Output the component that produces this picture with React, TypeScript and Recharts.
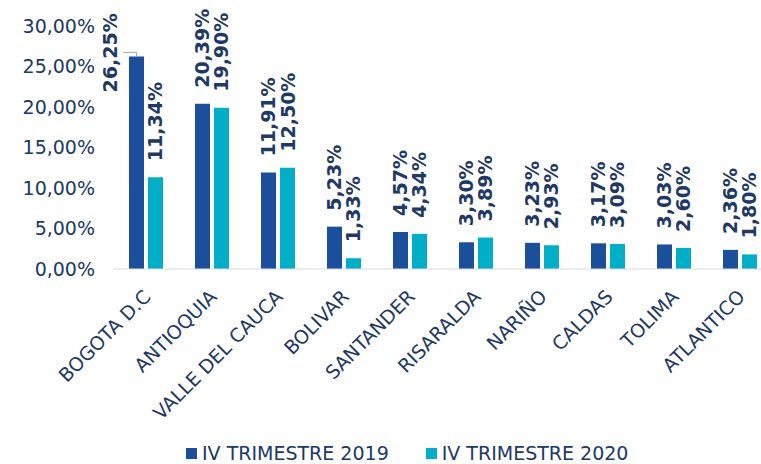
import React from 'react'
import { BarChart, Bar, XAxis, YAxis, Legend, LabelList } from 'recharts'

const categories = [
  'BOGOTA D.C',
  'ANTIOQUIA',
  'VALLE DEL CAUCA',
  'BOLIVAR',
  'SANTANDER',
  'RISARALDA',
  'NARIÑO',
  'CALDAS',
  'TOLIMA',
  'ATLANTICO',
]
const trimestre2019 = [26.25, 20.39, 11.91, 5.23, 4.57, 3.3, 3.23, 3.17, 3.03, 2.36]
const trimestre2020 = [11.34, 19.9, 12.5, 1.33, 4.34, 3.89, 2.93, 3.09, 2.6, 1.8]
const yTicks = [0, 5, 10, 15, 20, 25, 30]
const seriesNames = ['IV TRIMESTRE 2019', 'IV TRIMESTRE 2020']

const DARK = '#1B4F9B'
const LIGHT = '#00AEC7'
const TEXT = '#203864'
const FONT = '"DejaVu Sans", Verdana, sans-serif'

const data = categories.map((name, i) => ({
  name,
  t2019: trimestre2019[i],
  t2020: trimestre2020[i],
}))

const fmt = (v: number) => v.toFixed(2).replace('.', ',') + '%'

interface LabelProps {
  x?: number
  y?: number
  width?: number
  value?: number
  index?: number
}

function makeLabel(moveFirst: boolean) {
  return function BarLabel(props: LabelProps) {
    const { x = 0, y = 0, width = 0, value = 0, index } = props
    const cx = x + width / 2
    if (moveFirst && index === 0) {
      // Excel moved this one to the left of its bar, with a leader line
      const lx = x - 19
      const ly = y + 36
      return (
        <g>
          <path
            d={`M${cx},${y} L${cx},${y - 4} L${x - 6},${y - 4}`}
            stroke="#A6A6A6"
            strokeWidth={1}
            fill="none"
          />
          <text
            x={lx}
            y={ly}
            transform={`rotate(-90, ${lx}, ${ly})`}
            textAnchor="start"
            dominantBaseline="central"
            fontSize={19}
            fontWeight="bold"
            fontFamily={FONT}
            fill={TEXT}
          >
            {fmt(value)}
          </text>
        </g>
      )
    }
    const ly = y - 16
    return (
      <text
        x={cx}
        y={ly}
        transform={`rotate(-90, ${cx}, ${ly})`}
        textAnchor="start"
        dominantBaseline="central"
        fontSize={19}
        fontWeight="bold"
        fontFamily={FONT}
        fill={TEXT}
      >
        {fmt(value)}
      </text>
    )
  }
}

interface TickProps {
  x?: number
  y?: number
  payload?: { value: string }
}

function CategoryTick({ x = 0, y = 0, payload }: TickProps) {
  const tx = x + 6
  const ty = y + 21
  return (
    <text
      x={tx}
      y={ty}
      transform={`rotate(-45, ${tx}, ${ty})`}
      textAnchor="end"
      fontSize={19}
      fontFamily={FONT}
      fill={TEXT}
    >
      {payload?.value}
    </text>
  )
}

function LegendContent() {
  const colors = [DARK, LIGHT]
  return (
    <div
      style={{
        display: 'flex',
        paddingLeft: 186,
        paddingTop: 2,
        fontFamily: FONT,
        fontSize: 19,
        color: TEXT,
        lineHeight: '22px',
      }}
    >
      {seriesNames.map((n, i) => (
        <div
          key={n}
          style={{ display: 'flex', alignItems: 'center', marginRight: 37 }}
        >
          <span
            style={{
              display: 'inline-block',
              width: 11,
              height: 11,
              background: colors[i],
              marginRight: 5,
            }}
          />
          {n}
        </div>
      ))}
    </div>
  )
}

export default function App() {
  return (
    <div style={{ position: 'absolute', left: 0, top: 0, background: '#fff' }}>
      <BarChart
        width={780}
        height={464}
        data={data}
        margin={{ top: 26, right: 7, left: 0, bottom: 0 }}
        barSize={15}
        barGap={4}
        style={{ overflow: 'visible' }}
      >
        <XAxis
          dataKey="name"
          interval={0}
          height={171}
          tick={<CategoryTick />}
          tickLine={false}
          axisLine={{ stroke: '#D9D9D9', strokeWidth: 1 }}
        />
        <YAxis
          width={113}
          domain={[0, 30]}
          ticks={yTicks}
          tickFormatter={fmt}
          tick={{ fontSize: 19, fill: TEXT, fontFamily: FONT }}
          tickLine={false}
          tickSize={0}
          tickMargin={18}
          axisLine={false}
        />
        <Legend verticalAlign="bottom" height={24} content={<LegendContent />} />
        <Bar dataKey="t2019" name={seriesNames[0]} fill={DARK} isAnimationActive={false}>
          <LabelList dataKey="t2019" content={makeLabel(true)} />
        </Bar>
        <Bar dataKey="t2020" name={seriesNames[1]} fill={LIGHT} isAnimationActive={false}>
          <LabelList dataKey="t2020" content={makeLabel(false)} />
        </Bar>
      </BarChart>
    </div>
  )
}
